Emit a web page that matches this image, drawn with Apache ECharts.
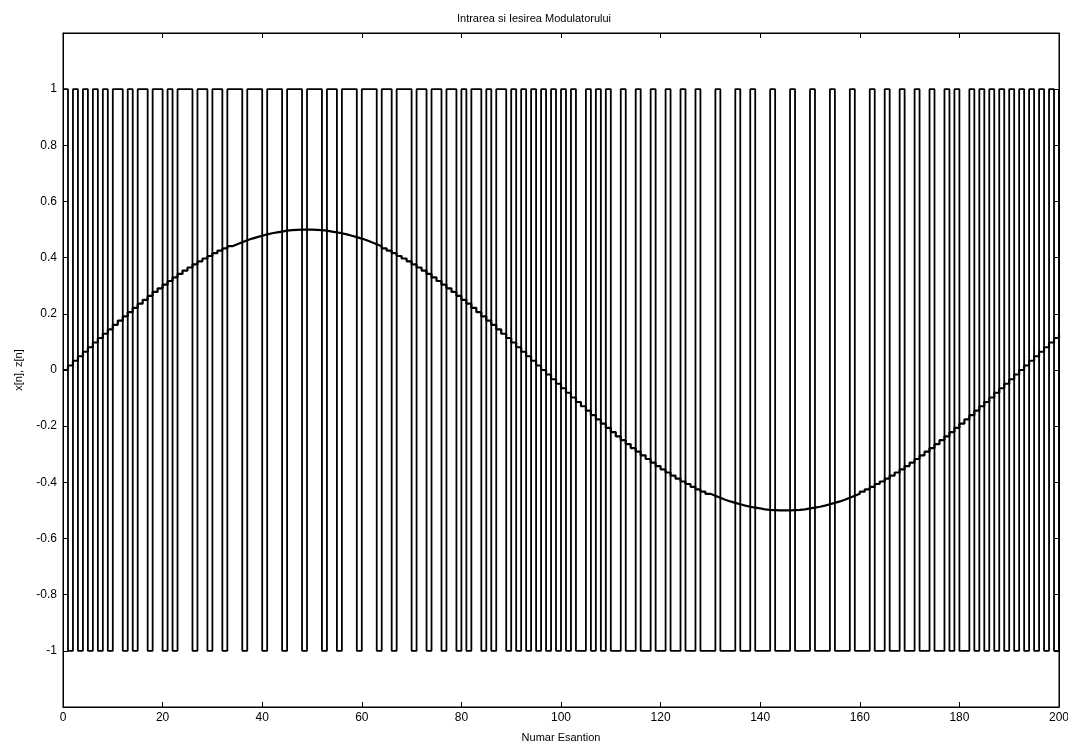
<!DOCTYPE html>
<html>
<head>
<meta charset="utf-8">
<script src="https://cdn.jsdelivr.net/npm/echarts@6/dist/echarts.min.js"></script>
<style>
html,body{margin:0;padding:0;background:#fff;}
#chart{width:1068px;height:748px;}
</style>
</head>
<body>
<div id="chart"></div>
<script>
// Sample index 0..200
var sampleCount = 201;

// Modulator input x[n] (stair-step sinusoid)
var inputValues = [
0,0.016,0.033,0.049,0.065,0.081,0.098,0.114,0.129,0.145,0.161,0.176,0.191,0.206,0.221,0.236,0.250,0.264,0.278,0.291,0.304,0.317,0.330,0.342,0.354,0.365,0.376,0.387,0.397,0.406,0.416,0.425,0.433,0.441,0.448,0.455,0.462,0.468,0.473,0.478,0.483,0.487,0.490,0.493,0.496,0.498,0.499,0.500,0.500,
0.500,0.499,0.498,0.496,0.493,0.490,0.487,0.483,0.478,0.473,0.468,0.462,0.455,0.448,0.441,0.433,0.425,0.416,0.406,0.397,0.387,0.376,0.365,0.354,0.342,0.330,0.317,0.304,0.291,0.278,0.264,0.250,0.236,0.221,0.206,0.191,0.176,0.161,0.145,0.129,0.114,0.098,0.081,0.065,0.049,0.033,0.016,0,
-0.016,-0.033,-0.049,-0.065,-0.081,-0.098,-0.114,-0.129,-0.145,-0.161,-0.176,-0.191,-0.206,-0.221,-0.236,-0.250,-0.264,-0.278,-0.291,-0.304,-0.317,-0.330,-0.342,-0.354,-0.365,-0.376,-0.387,-0.397,-0.406,-0.416,-0.425,-0.433,-0.441,-0.448,-0.455,-0.462,-0.468,-0.473,-0.478,-0.483,-0.487,-0.490,-0.493,-0.496,-0.498,-0.499,-0.500,-0.500,
-0.500,-0.499,-0.498,-0.496,-0.493,-0.490,-0.487,-0.483,-0.478,-0.473,-0.468,-0.462,-0.455,-0.448,-0.441,-0.433,-0.425,-0.416,-0.406,-0.397,-0.387,-0.376,-0.365,-0.354,-0.342,-0.330,-0.317,-0.304,-0.291,-0.278,-0.264,-0.250,-0.236,-0.221,-0.206,-0.191,-0.176,-0.161,-0.145,-0.129,-0.114,-0.098,-0.081,-0.065,-0.049,-0.033,-0.016,0,
0.016,0.033,0.049,0.065,0.081,0.098,0.114,0.129
];

// Modulator output z[n] (+1 / -1)
var outputValues = [
1,-1,1,-1,1,-1,1,-1,1,-1,
1,1,-1,1,-1,1,1,-1,1,1,
-1,1,-1,1,1,1,-1,1,1,-1,
1,1,-1,1,1,1,-1,1,1,1,
-1,1,1,1,-1,1,1,1,-1,1,
1,1,-1,1,1,-1,1,1,1,-1,
1,1,1,-1,1,1,-1,1,1,1,
-1,1,1,-1,1,1,-1,1,1,-1,
1,-1,1,1,-1,1,-1,1,1,-1,
1,-1,1,-1,1,-1,1,-1,1,-1,
1,-1,1,-1,-1,1,-1,1,-1,1,
-1,-1,1,-1,-1,1,-1,-1,1,-1,
-1,1,-1,-1,1,-1,-1,1,-1,-1,
-1,1,-1,-1,-1,1,-1,-1,1,-1,
-1,-1,1,-1,-1,-1,1,-1,-1,-1,
1,-1,-1,-1,1,-1,-1,-1,1,-1,
-1,-1,1,-1,-1,1,-1,-1,1,-1,
-1,1,-1,-1,1,-1,-1,1,-1,1,
-1,-1,1,-1,1,-1,1,-1,1,-1,
1,-1,1,-1,1,-1,1,-1,1,-1,
1
];

var xTicks = [0,20,40,60,80,100,120,140,160,180,200];
var yTickLabels = ['-1','-0.8','-0.6','-0.4','-0.2','0','0.2','0.4','0.6','0.8','1'];

var titleText = 'Intrarea si Iesirea Modulatorului';
var xLabelText = 'Numar Esantion';
var yLabelText = 'x[n], z[n]';

var inputData = [], outputData = [];
for (var i = 0; i < sampleCount; i++) {
  inputData.push([i, inputValues[i]]);
  outputData.push([i, outputValues[i]]);
}

var FONT = 'Liberation Sans, Arial, sans-serif';
function yFmt(v) {
  var r = Math.round(v * 10) / 10;
  if (Math.abs(r) > 1.01) return '';
  var s = String(r);
  return yTickLabels.indexOf(s) >= 0 ? s : '';
}

var chart = echarts.init(document.getElementById('chart'), null, {renderer: 'canvas'});
chart.setOption({
  animation: false,
  backgroundColor: '#ffffff',
  title: {
    text: titleText, left: 'center', top: 8,
    textStyle: {fontFamily: FONT, fontSize: 11, fontWeight: 'normal', color: '#000'}
  },
  grid: {left: 63, right: 9, top: 33, bottom: 41, containLabel: false, outerBoundsMode: 'none',
    show: true, borderColor: '#000', borderWidth: 1, backgroundColor: '#fff'},
  xAxis: [{
    type: 'value', min: 0, max: 200, interval: 20, position: 'bottom',
    name: xLabelText, nameLocation: 'middle', nameGap: 25,
    nameTextStyle: {fontFamily: FONT, fontSize: 11, color: '#000'},
    axisLine: {show: true, onZero: false, lineStyle: {color: '#000', width: 1}},
    axisTick: {show: true, inside: true, length: 5, lineStyle: {color: '#000'}},
    axisLabel: {fontFamily: FONT, fontSize: 12, color: '#000', margin: 5,
      formatter: function (v) { return xTicks.indexOf(v) >= 0 ? String(v) : ''; }},
    splitLine: {show: false}
  }, {
    type: 'value', min: 0, max: 200, interval: 20, position: 'top',
    axisLine: {show: true, onZero: false, lineStyle: {color: '#000', width: 1}},
    axisTick: {show: true, inside: true, length: 5, lineStyle: {color: '#000'}},
    axisLabel: {show: false}, splitLine: {show: false}
  }],
  yAxis: [{
    type: 'value', min: -1.2, max: 1.2, interval: 0.2, position: 'left',
    name: yLabelText, nameLocation: 'middle', nameGap: 39, nameRotate: 90,
    nameTextStyle: {fontFamily: FONT, fontSize: 11, color: '#000'},
    axisLine: {show: true, onZero: false, lineStyle: {color: '#000', width: 1}},
    axisTick: {show: true, inside: true, length: 5, lineStyle: {color: '#000'}},
    axisLabel: {fontFamily: FONT, fontSize: 12, color: '#000', margin: 6, formatter: yFmt},
    splitLine: {show: false}
  }, {
    type: 'value', min: -1.2, max: 1.2, interval: 0.2, position: 'right',
    axisLine: {show: true, onZero: false, lineStyle: {color: '#000', width: 1}},
    axisTick: {show: true, inside: true, length: 5, lineStyle: {color: '#000'}},
    axisLabel: {show: false}, splitLine: {show: false}
  }],
  series: [{
    name: 'z[n]', type: 'line', step: 'end', data: outputData,
    xAxisIndex: 0, yAxisIndex: 0, symbol: 'none',
    lineStyle: {color: '#000', width: 1.8}
  }, {
    name: 'x[n]', type: 'line', step: 'end', data: inputData,
    xAxisIndex: 0, yAxisIndex: 0, symbol: 'none',
    lineStyle: {color: '#000', width: 2.2}
  }]
});
</script>
</body>
</html>
